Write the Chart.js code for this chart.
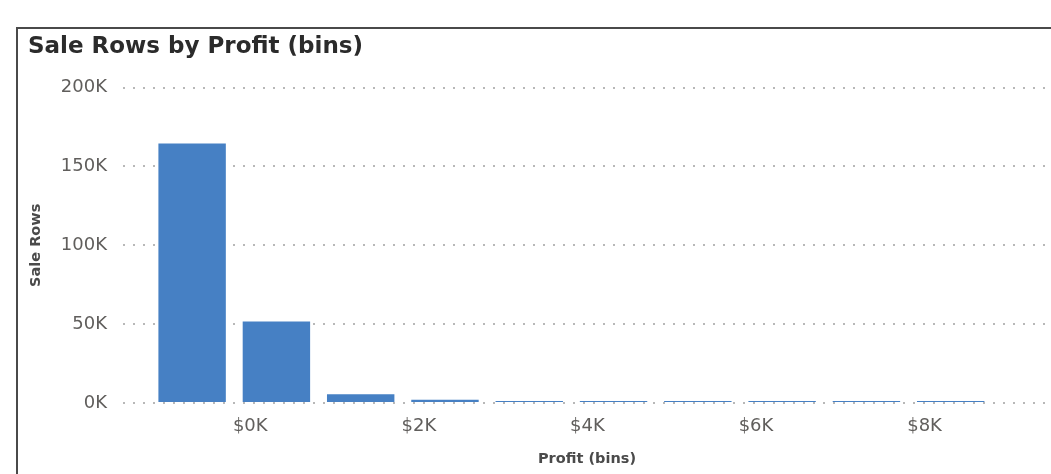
<!DOCTYPE html>
<html>
<head>
<meta charset="utf-8">
<script src="https://cdn.jsdelivr.net/npm/chart.js@4"></script>
<style>
  html, body { margin: 0; padding: 0; background: #ffffff; overflow: hidden; }
  #wrap { position: relative; width: 1051px; height: 474px; }
  #frame { position: absolute; left: 16px; top: 27px; width: 1100px; height: 500px;
           border-left: 2px solid #4a4a4a; border-top: 2px solid #4a4a4a; pointer-events: none; }
  canvas { position: absolute; left: 0; top: 0; }
</style>
</head>
<body>
<div id="wrap">
  <canvas id="c" width="1051" height="474"></canvas>
  <div id="frame"></div>
</div>
<script>
// ---- data ----
const profitBinStarts = [-1000, 0, 1000, 2000, 3000, 4000, 5000, 6000, 7000, 8000];
const binSize = 1000;
const saleRows = [164500, 51700, 5600, 2000, 1300, 1300, 1300, 1300, 1300, 1300];
const xTickValues = [0, 2000, 4000, 6000, 8000];
const yTickValues = [0, 50000, 100000, 150000, 200000];

const points = profitBinStarts.map((s, i) => ({ x: s + binSize / 2, y: saleRows[i] }));

const dotGrid = '#b8b8b8';
const tickColor = '#605e5c';
const axisTitleColor = '#4a4a4a';

new Chart(document.getElementById('c'), {
  type: 'bar',
  data: {
    datasets: [{
      label: 'Sale Rows',
      data: points,
      backgroundColor: '#4680c4',
      borderWidth: 0,
      barPercentage: 0.8,
      categoryPercentage: 1.0
    }]
  },
  options: {
    responsive: false,
    animation: false,
    layout: { padding: { left: 28, top: 33, right: 0, bottom: 6 } },
    plugins: {
      legend: { display: false },
      tooltip: { enabled: false },
      title: {
        display: true,
        text: 'Sale Rows by Profit (bins)',
        align: 'start',
        color: '#2b2b2b',
        font: { family: 'DejaVu Sans', size: 23, weight: 'bold' },
        padding: { top: 0, bottom: 27 }
      }
    },
    scales: {
      x: {
        type: 'linear',
        offset: false,
        min: -1320,
        max: 9690,
        grid: { display: false, offset: false, drawTicks: false },
        border: { display: false },
        afterBuildTicks: (s) => { s.ticks = xTickValues.map(v => ({ value: v })); },
        ticks: {
          color: tickColor,
          font: { family: 'DejaVu Sans', size: 18 },
          padding: 13,
          labelOffset: 16,
          maxRotation: 0,
          autoSkip: false,
          callback: (v) => '$' + (v / 1000) + 'K'
        },
        title: {
          display: true,
          text: 'Profit (bins)',
          color: axisTitleColor,
          font: { family: 'DejaVu Sans', size: 14.5, weight: 'bold' },
          padding: { top: 0, bottom: 0 }
        }
      },
      y: {
        min: 0,
        max: 200000,
        afterBuildTicks: (s) => { s.ticks = yTickValues.map(v => ({ value: v })); },
        afterFit: (s) => { s.width = 95; },
        grid: {
          color: dotGrid,
          lineWidth: 2,
          drawTicks: false
        },
        border: { display: false, dash: [2, 8] },
        ticks: {
          color: tickColor,
          font: { family: 'DejaVu Sans', size: 18 },
          padding: 16,
          callback: (v) => (v / 1000) + 'K'
        },
        title: {
          display: true,
          text: 'Sale Rows',
          color: axisTitleColor,
          font: { family: 'DejaVu Sans', size: 14.5, weight: 'bold' },
          padding: { top: 0, bottom: 0 }
        }
      }
    }
  }
});
</script>
</body>
</html>
